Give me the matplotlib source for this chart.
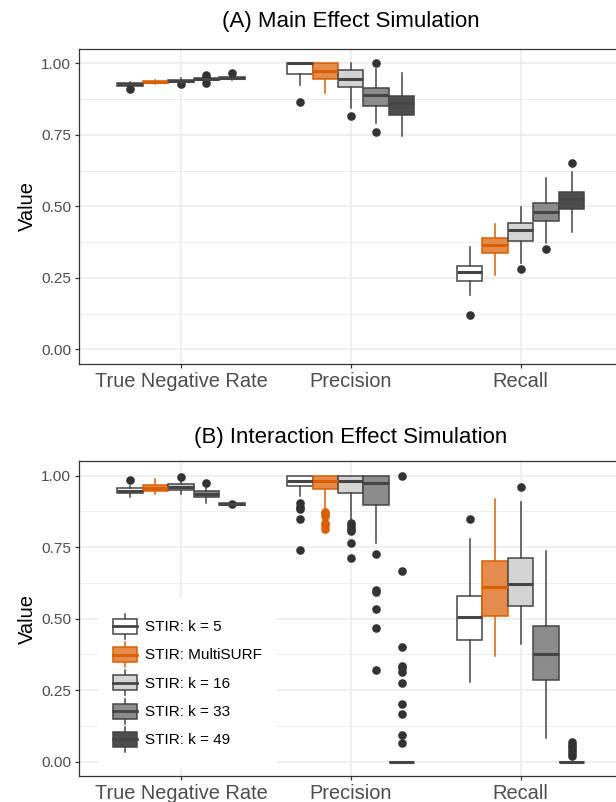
import matplotlib
matplotlib.use("Agg")
import matplotlib.pyplot as plt
from matplotlib.patches import Patch, Rectangle
from matplotlib.lines import Line2D
from matplotlib.legend_handler import HandlerBase

plt.rcParams['font.family'] = ['Liberation Sans', 'DejaVu Sans']

# categorie e metodi
metrics = ["True Negative Rate", "Precision", "Recall"]
methods = ["STIR: k = 5", "STIR: MultiSURF", "STIR: k = 16", "STIR: k = 33", "STIR: k = 49"]
fills = ["#FFFFFF", "#E58B4C", "#D4D4D4", "#8C8C8C", "#4D4D4D"]
edges = ["#454545", "#D95F02", "#454545", "#454545", "#454545"]
dots = ["#333333", "#D95F02", "#333333", "#333333", "#333333"]

# (A) Main Effect - righe: metriche, colonne: metodi
a_q1 = [[0.922, 0.930, 0.935, 0.941, 0.945],
        [0.961, 0.945, 0.916, 0.852, 0.820],
        [0.239, 0.336, 0.379, 0.450, 0.490]]
a_med = [[0.926, 0.934, 0.939, 0.945, 0.949],
         [1.000, 0.972, 0.944, 0.889, 0.860],
         [0.270, 0.365, 0.417, 0.481, 0.524]]
a_q3 = [[0.930, 0.937, 0.943, 0.950, 0.953],
        [1.000, 1.000, 0.977, 0.913, 0.887],
        [0.292, 0.390, 0.443, 0.513, 0.551]]
a_lo = [[0.918, 0.928, 0.930, 0.935, 0.940],
        [0.925, 0.897, 0.843, 0.790, 0.746],
        [0.190, 0.260, 0.301, 0.371, 0.411]]
a_hi = [[0.933, 0.940, 0.947, 0.955, 0.958],
        [1.000, 1.000, 1.000, 0.979, 0.965],
        [0.359, 0.438, 0.499, 0.598, 0.619]]
a_out = [[[0.910], [], [0.927], [0.960, 0.953, 0.932], [0.965]],
         [[0.864], [], [0.816], [1.000, 0.761], []],
         [[0.120], [], [0.280], [0.350], [0.650]]]

# (B) Interaction Effect
b_q1 = [[0.938, 0.946, 0.950, 0.924, 0.897],
        [0.964, 0.952, 0.938, 0.898, 0.0],
        [0.425, 0.509, 0.546, 0.286, 0.0]]
b_med = [[0.948, 0.958, 0.961, 0.935, 0.901],
         [0.982, 0.982, 0.982, 0.976, 0.0],
         [0.507, 0.612, 0.621, 0.377, 0.0]]
b_q3 = [[0.956, 0.968, 0.972, 0.947, 0.906],
        [1.000, 1.000, 1.000, 1.000, 0.0],
        [0.579, 0.702, 0.711, 0.474, 0.0]]
b_lo = [[0.927, 0.935, 0.935, 0.906, 0.895],
        [0.929, 0.880, 0.840, 0.766, 0.0],
        [0.280, 0.371, 0.412, 0.082, 0.0]]
b_hi = [[0.965, 0.988, 0.985, 0.960, 0.908],
        [1.000, 1.000, 1.000, 1.000, 0.0],
        [0.779, 0.918, 0.909, 0.738, 0.0]]
b_out = [[[0.985], [], [0.997], [0.973], [0.902]],
         [[0.903, 0.890, 0.882, 0.848, 0.740],
          [0.872, 0.865, 0.858, 0.836, 0.826, 0.812],
          [0.835, 0.825, 0.815, 0.805, 0.766, 0.711],
          [0.725, 0.600, 0.593, 0.534, 0.469, 0.321],
          [1.000, 0.668, 0.400, 0.336, 0.326, 0.315, 0.274, 0.201, 0.167, 0.093, 0.064]],
         [[0.849], [], [0.962], [], [0.070, 0.060, 0.050, 0.040, 0.030, 0.020]]]


class BoxKey(HandlerBase):
    # piccolo boxplot verticale come chiave della legenda
    def create_artists(self, legend, orig_handle, xdescent, ydescent,
                       width, height, fontsize, trans):
        x0, y0 = -xdescent, -ydescent
        cx = x0 + width / 2
        fc = orig_handle.get_facecolor()
        ec = orig_handle.get_edgecolor()
        wh = Line2D([cx, cx], [y0 + 0.02 * height, y0 + 0.98 * height],
                    color=ec, lw=1.1, transform=trans)
        box = Rectangle((x0, y0 + 0.21 * height), width, 0.58 * height,
                        facecolor=fc, edgecolor=ec, lw=1.1, transform=trans)
        md = Line2D([x0, x0 + width], [y0 + 0.5 * height] * 2,
                    color=ec, lw=2.0, transform=trans)
        return [wh, box, md]


def pannello(ax, q1, med, q3, lo, hi, out):
    offsets = [-0.3, -0.15, 0.0, 0.15, 0.3]
    for j in range(len(methods)):
        stats = []
        pos = []
        for i in range(len(metrics)):
            stats.append(dict(q1=q1[i][j], med=med[i][j], q3=q3[i][j],
                              whislo=lo[i][j], whishi=hi[i][j], fliers=out[i][j]))
            pos.append(i + 1 + offsets[j])
        ax.bxp(stats, positions=pos, widths=0.15, patch_artist=True, showcaps=False,
               boxprops=dict(facecolor=fills[j], edgecolor=edges[j], lw=1.1),
               whiskerprops=dict(color=edges[j], lw=1.1),
               medianprops=dict(color=edges[j], lw=2.2),
               flierprops=dict(marker='o', markerfacecolor=dots[j],
                               markeredgecolor='none', markersize=6.2))
    ax.set_xlim(0.4, 3.6)
    ax.set_ylim(-0.05, 1.05)
    ax.set_xticks([1, 2, 3])
    ax.set_xticklabels(metrics)
    ax.set_yticks([0, 0.25, 0.5, 0.75, 1.0])
    ax.set_yticklabels(["0.00", "0.25", "0.50", "0.75", "1.00"])
    ax.set_yticks([0.125, 0.375, 0.625, 0.875], minor=True)
    ax.grid(which='major', color='#EBEBEB', lw=1.1)
    ax.grid(which='minor', axis='y', color='#EBEBEB', lw=0.6)
    ax.set_axisbelow(True)
    ax.tick_params(axis='x', labelsize=14.4, labelcolor='#4D4D4D', length=3.2,
                   width=0.9, color='#333333', pad=2.5)
    ax.tick_params(axis='y', labelsize=11.1, labelcolor='#4D4D4D', length=3.2,
                   width=0.9, color='#333333', pad=2.5)
    ax.tick_params(which='minor', length=0)
    for s in ax.spines.values():
        s.set_color('#333333')
        s.set_linewidth(0.9)
    ax.set_ylabel("Value", fontsize=14.5)
    ax.yaxis.set_label_coords(-0.078, 0.5)


fig = plt.figure(figsize=(6.16, 8.02), dpi=100)
ax1 = fig.add_axes([79 / 616, 0.5466, 543.5 / 616, 0.3923])
ax2 = fig.add_axes([79 / 616, 0.0324, 543.5 / 616, 0.3923])

pannello(ax1, a_q1, a_med, a_q3, a_lo, a_hi, a_out)
pannello(ax2, b_q1, b_med, b_q3, b_lo, b_hi, b_out)

fig.text(350.7 / 616, 1 - 22 / 802, "(A) Main Effect Simulation", fontsize=16,
         ha='center', va='center')
fig.text(350.7 / 616, 1 - 437 / 802, "(B) Interaction Effect Simulation", fontsize=16,
         ha='center', va='center')

handles = [Patch(facecolor=fills[j], edgecolor=edges[j]) for j in range(len(methods))]
leg = ax2.legend(handles, methods, handler_map={Patch: BoxKey()}, loc='center',
                 bbox_to_anchor=(0.1996, 0.296), fontsize=11, frameon=True,
                 fancybox=False, edgecolor='none', facecolor='white', framealpha=1,
                 handlelength=1.57, handleheight=2.24, labelspacing=0.15,
                 handletextpad=0.5, borderpad=1.0)

fig.savefig("out.png", dpi=100)
